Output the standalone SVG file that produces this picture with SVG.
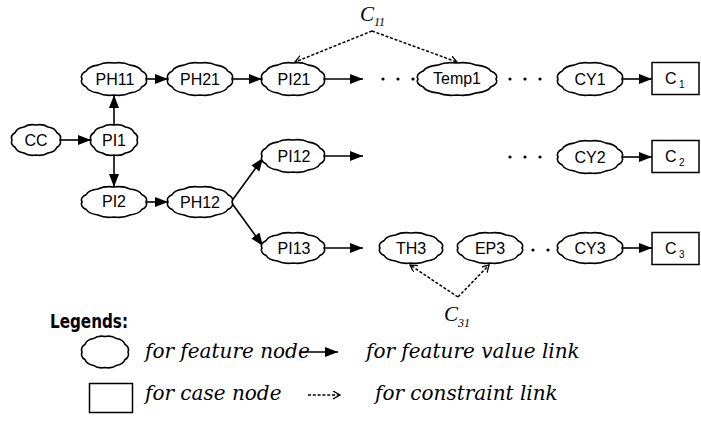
<svg xmlns="http://www.w3.org/2000/svg" width="701" height="421" viewBox="0 0 701 421">
<style>
.lbl{font-family:"Liberation Sans",Arial,sans-serif;font-size:16px;fill:#000;text-anchor:middle}
.box{fill:#fff;stroke:#000;stroke-width:1.5}
.fl{stroke:#000;stroke-width:1.6;fill:none}
.cl{stroke:#000;stroke-width:1.5;fill:none;stroke-dasharray:3 1.8}
.it{font-family:"DejaVu Serif","Liberation Serif",serif;font-style:italic;font-size:20px;fill:#000}
.cv{font-family:"Liberation Serif","Times New Roman",serif;font-style:italic;fill:#000}
.dot{fill:#000}
</style>
<defs>
<path id="blob" d="M1,0 A.5,.5 0 0 1 .866,.5 A.5,.5 0 0 1 .5,.866 A.5,.5 0 0 1 0,1 A.5,.5 0 0 1 -.5,.866 A.5,.5 0 0 1 -.866,.5 A.5,.5 0 0 1 -1,0 A.5,.5 0 0 1 -.866,-.5 A.5,.5 0 0 1 -.5,-.866 A.5,.5 0 0 1 0,-1 A.5,.5 0 0 1 .5,-.866 A.5,.5 0 0 1 .866,-.5 A.5,.5 0 0 1 1,0 Z" fill="#fff" stroke="#000" stroke-width="1.6" vector-effect="non-scaling-stroke"/>
<marker id="ah" markerUnits="userSpaceOnUse" markerWidth="14" markerHeight="11" refX="13" refY="5" orient="auto">
<path d="M0,0 L13,5 L0,10 Z" fill="#000"/>
</marker>
<marker id="oh" markerUnits="userSpaceOnUse" markerWidth="10" markerHeight="10" refX="7" refY="4" orient="auto">
<path d="M0,0 L7,4 L0,8" fill="none" stroke="#000" stroke-width="1.3"/>
</marker>
</defs>
<rect width="701" height="421" fill="#fff"/>

<g id="connectors">
<line class="fl" x1="60" y1="140" x2="91" y2="140" marker-end="url(#ah)"/>
<line class="fl" x1="114" y1="125" x2="114" y2="95" marker-end="url(#ah)"/>
<line class="fl" x1="114" y1="155" x2="114" y2="187" marker-end="url(#ah)"/>
<line class="fl" x1="146" y1="79" x2="168" y2="79" marker-end="url(#ah)"/>
<line class="fl" x1="232" y1="79" x2="262" y2="79" marker-end="url(#ah)"/>
<line class="fl" x1="324" y1="79" x2="363" y2="79" marker-end="url(#ah)"/>
<line class="fl" x1="324" y1="156" x2="363" y2="156" marker-end="url(#ah)"/>
<line class="fl" x1="146" y1="202" x2="168" y2="202" marker-end="url(#ah)"/>
<line class="fl" x1="231" y1="202" x2="263" y2="158" marker-end="url(#ah)"/>
<line class="fl" x1="231" y1="202" x2="263" y2="246" marker-end="url(#ah)"/>
<line class="fl" x1="324" y1="248" x2="363" y2="248" marker-end="url(#ah)"/>
<line class="fl" x1="622" y1="79" x2="652" y2="79" marker-end="url(#ah)"/>
<line class="fl" x1="622" y1="157" x2="652" y2="157" marker-end="url(#ah)"/>
<line class="fl" x1="622" y1="248" x2="652" y2="248" marker-end="url(#ah)"/>
<polyline class="cl" points="372,31 295,62" marker-end="url(#oh)"/>
<polyline class="cl" points="372,31 457,62" marker-end="url(#oh)"/>
<polyline class="cl" points="458,297 410,265" marker-end="url(#oh)"/>
<polyline class="cl" points="458,297 489,265" marker-end="url(#oh)"/>
</g>

<g id="dots">
<circle class="dot" cx="383" cy="79" r="1.6"/><circle class="dot" cx="398" cy="79" r="1.6"/><circle class="dot" cx="413" cy="79" r="1.6"/>
<circle class="dot" cx="510" cy="79" r="1.6"/><circle class="dot" cx="525" cy="79" r="1.6"/><circle class="dot" cx="540" cy="79" r="1.6"/>
<circle class="dot" cx="510" cy="157" r="1.6"/><circle class="dot" cx="525" cy="157" r="1.6"/><circle class="dot" cx="540" cy="157" r="1.6"/>
<circle class="dot" cx="533" cy="250" r="1.6"/><circle class="dot" cx="548" cy="250" r="1.6"/>
</g>

<g id="n-CC"><use href="#blob" transform="translate(36,140) scale(24,15)"/><text class="lbl" x="36" y="146" font-size="17">CC</text></g>
<g id="n-PI1"><use href="#blob" transform="translate(114,140) scale(23,15)"/><text class="lbl" x="114" y="146" font-size="17">PI1</text></g>
<g id="n-PH11"><use href="#blob" transform="translate(114,79) scale(32,16)"/><text class="lbl" x="115" y="85">PH11</text></g>
<g id="n-PH21"><use href="#blob" transform="translate(200,79) scale(32,16)"/><text class="lbl" x="200" y="85">PH21</text></g>
<g id="n-PI21"><use href="#blob" transform="translate(293,79) scale(31,16)"/><text class="lbl" x="294" y="85">PI21</text></g>
<g id="n-Temp1"><use href="#blob" transform="translate(457,79) scale(39,16)"/><text class="lbl" x="457" y="84" font-size="14">Temp1</text></g>
<g id="n-CY1"><use href="#blob" transform="translate(590,79) scale(32,16)"/><text class="lbl" x="590" y="85" font-size="17">CY1</text></g>
<g id="n-C1"><rect class="box" x="652" y="62.5" width="47" height="32"/><text class="lbl" style="text-anchor:start"><tspan x="665" y="84">C</tspan><tspan x="679" y="88" font-size="10">1</tspan></text></g>
<g id="n-PI12"><use href="#blob" transform="translate(293,156) scale(31,16)"/><text class="lbl" x="294" y="162">PI12</text></g>
<g id="n-CY2"><use href="#blob" transform="translate(590,157) scale(32,16)"/><text class="lbl" x="590" y="163" font-size="17">CY2</text></g>
<g id="n-C2"><rect class="box" x="652" y="140.5" width="47" height="32"/><text class="lbl" style="text-anchor:start"><tspan x="665" y="162">C</tspan><tspan x="679" y="166" font-size="10">2</tspan></text></g>
<g id="n-PI2"><use href="#blob" transform="translate(114,202) scale(32,15)"/><text class="lbl" x="114" y="207" font-size="15">PI2</text></g>
<g id="n-PH12"><use href="#blob" transform="translate(200,202) scale(32,15)"/><text class="lbl" x="200" y="208">PH12</text></g>
<g id="n-PI13"><use href="#blob" transform="translate(293,248) scale(31,15)"/><text class="lbl" x="294" y="254">PI13</text></g>
<g id="n-TH3"><use href="#blob" transform="translate(411,248) scale(31,15)"/><text class="lbl" x="411" y="254" font-size="17">TH3</text></g>
<g id="n-EP3"><use href="#blob" transform="translate(490,248) scale(32,15)"/><text class="lbl" x="490" y="254" font-size="17">EP3</text></g>
<g id="n-CY3"><use href="#blob" transform="translate(590,248) scale(32,15)"/><text class="lbl" x="590" y="254" font-size="17">CY3</text></g>
<g id="n-C3"><rect class="box" x="652" y="232.5" width="47" height="32"/><text class="lbl" style="text-anchor:start"><tspan x="665" y="254">C</tspan><tspan x="679" y="258" font-size="10">3</tspan></text></g>

<g id="c11"><text class="cv" font-size="21" x="360" y="21">C<tspan x="374" y="26" font-size="12">11</tspan></text></g>
<g id="c31"><text class="cv" font-size="21" x="444" y="321">C<tspan x="458" y="327" font-size="12">31</tspan></text></g>

<g id="legend">
<text x="50" y="328" font-family="'DejaVu Sans Condensed','Liberation Sans Narrow',sans-serif" font-weight="bold" font-size="19" textLength="78" lengthAdjust="spacingAndGlyphs">Legends:</text>
<use href="#blob" transform="translate(105,352) scale(23,15.5)"/>
<text class="it" x="145" y="358">for feature node</text>
<line class="fl" x1="300" y1="352" x2="338" y2="352" marker-end="url(#ah)"/>
<text class="it" x="366" y="358">for feature value link</text>
<rect class="box" x="89.5" y="383.5" width="43" height="29"/>
<text class="it" x="145" y="400">for case node</text>
<line class="cl" x1="308" y1="395" x2="340" y2="395" marker-end="url(#oh)"/>
<text class="it" x="375" y="400">for constraint link</text>
</g>
</svg>
